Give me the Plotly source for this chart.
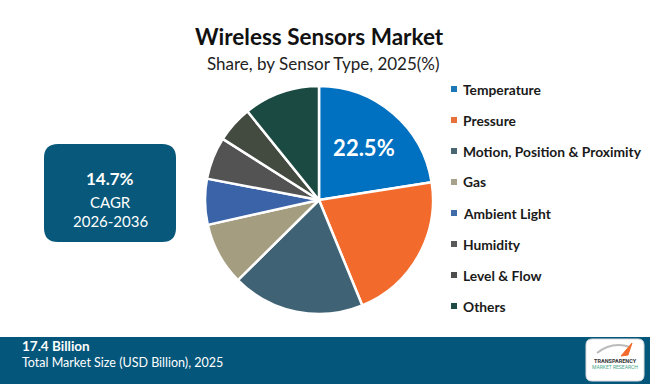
import plotly.graph_objects as go

labels = ["Temperature", "Pressure", "Motion, Position & Proximity", "Gas",
          "Ambient Light", "Humidity", "Level & Flow", "Others"]
shares = [22.5, 21.3, 18.8, 8.9, 6.5, 6.0, 5.2, 10.8]
colors = ["#0070C0", "#F26B2C", "#3F6375", "#A59D80", "#3A63A8", "#535353", "#434A40", "#1A4A41"]
legend_colors = ["#1C77B6", "#E8703A", "#4A6670", "#A6A18A", "#3F6BA8", "#595959", "#4D4D4D", "#1E4B44"]
slice_text = ["22.5%", "", "", "", "", "", "", ""]

title = "Wireless Sensors Market"
subtitle = "Share, by Sensor Type, 2025(%)"
cagr_value = "14.7%"
cagr_label = "CAGR"
cagr_period = "2026-2036"
market_value = "17.4 Billion"
market_label = "Total Market Size (USD Billion), 2025"

W, H = 650, 384
cx, cy, r = 319, 200, 114

fig = go.Figure()
fig.add_trace(go.Pie(
    labels=labels, values=shares, sort=False, direction="clockwise", rotation=0,
    marker=dict(colors=colors, line=dict(color="white", width=2.5)),
    text=slice_text, textinfo="text", textposition="inside",
    insidetextorientation="horizontal",
    textfont=dict(family="Lato", size=22, color="white", weight="bold"),
    hoverinfo="label+percent", showlegend=False,
    domain=dict(x=[(cx - r) / W, (cx + r) / W], y=[(H - cy - r) / H, (H - cy + r) / H]),
))

def px(x):
    return x / W

def py(y):
    return 1 - y / H

shapes = []
annotations = []

def ann(x, y, text, font, xanchor="center"):
    annotations.append(dict(x=px(x), y=py(y), xref="paper", yref="paper", text=text,
                            xanchor=xanchor, yanchor="middle", showarrow=False, font=font))

# titles
ann(319, 37, "<b>" + title + "</b>", dict(family="Lato", size=22.5, color="#111111"))
ann(323, 63, subtitle, dict(family="Lato", size=17, color="#222222"))

# legend
leg_y0, leg_dy = 89, 31
for i, (lab, col) in enumerate(zip(labels, legend_colors)):
    yy = leg_y0 + i * leg_dy
    shapes.append(dict(type="rect", xref="paper", yref="paper",
                       x0=px(451), x1=px(457), y0=py(yy + 3), y1=py(yy - 3),
                       fillcolor=col, line=dict(width=0)))
    ann(461, yy, "<b>" + lab + "</b>", dict(family="Lato", size=13.8, color="#1a1a1a"), xanchor="left")

def rrect_paper(x0, y0, x1, y1, rad):
    rx, ry = rad / W, rad / H
    X0, X1 = px(x0), px(x1)
    Y0, Y1 = py(y0), py(y1)
    return (f"M {X0+rx},{Y0} L {X1-rx},{Y0} Q {X1},{Y0} {X1},{Y0-ry} "
            f"L {X1},{Y1+ry} Q {X1},{Y1} {X1-rx},{Y1} L {X0+rx},{Y1} "
            f"Q {X0},{Y1} {X0},{Y1+ry} L {X0},{Y0-ry} Q {X0},{Y0} {X0+rx},{Y0} Z")

# CAGR box
shapes.append(dict(type="path", xref="paper", yref="paper", path=rrect_paper(44, 144, 176, 242, 14),
                   fillcolor="#07587A", line=dict(width=0)))
ann(110, 178, "<b>" + cagr_value + "</b>", dict(family="Lato", size=17, color="white"))
ann(110, 202, cagr_label, dict(family="Lato", size=15, color="white"))
ann(110, 221, cagr_period, dict(family="Lato", size=15, color="white"))

# bottom bar
shapes.append(dict(type="rect", xref="paper", yref="paper", x0=0, x1=1, y0=0, y1=py(337),
                   fillcolor="#04567A", line=dict(width=0), layer="below"))
ann(20, 346, "<b>" + market_value + "</b>",
    dict(family="Lato", size=13.5, color="white"), xanchor="left")
ann(20, 362, market_label,
    dict(family="Lato", size=12.5, color="white"), xanchor="left")

# logo
shapes.append(dict(type="path", xref="paper", yref="paper", path=rrect_paper(586, 339, 644, 381, 6),
                   fillcolor="white", line=dict(color="#dddddd", width=1)))
shapes.append(dict(type="path", xref="paper", yref="paper",
                   path=f"M {px(597)},{py(353)} Q {px(612)},{py(341)} {px(630)},{py(347)}",
                   line=dict(color="#bbbbbb", width=2)))
shapes.append(dict(type="path", xref="paper", yref="paper",
                   path=f"M {px(621)},{py(356)} L {px(632)},{py(343)} L {px(628)},{py(355)} Z",
                   fillcolor="#F26B2C", line=dict(color="#F26B2C", width=1)))
ann(615, 361, "<b>TRANSPARENCY</b>", dict(family="Roboto", size=5.5, color="#333333"))
ann(615, 367, "MARKET RESEARCH", dict(family="Roboto", size=5, color="#4aa88a"))

fig.update_layout(
    width=W, height=H, margin=dict(l=0, r=0, t=0, b=0),
    paper_bgcolor="white", plot_bgcolor="white",
    shapes=shapes, annotations=annotations,
)

fig.write_html("out.html", config={"displayModeBar": False},
               post_script="document.body.style.margin='0';document.body.style.overflow='hidden';")
